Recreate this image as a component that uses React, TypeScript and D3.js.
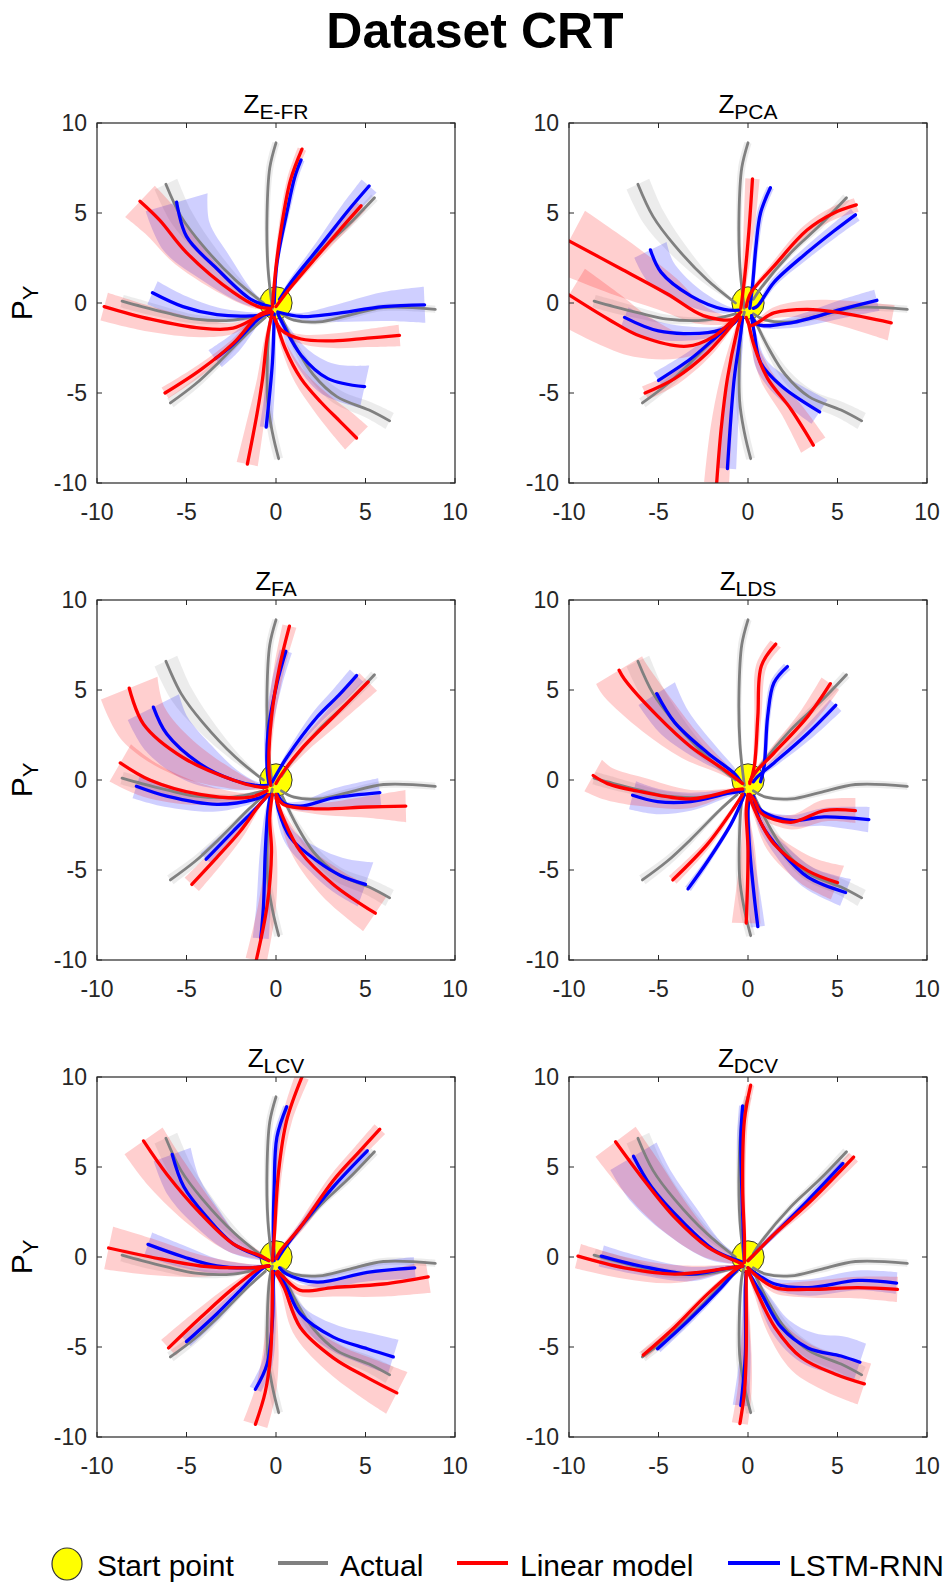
import React from 'react';
import * as d3 from 'd3';

// each point: [x, y, band half-width]
type Pt = [number, number, number];

const TITLE = 'Dataset CRT';
const panelNames = ['E-FR', 'PCA', 'FA', 'LDS', 'LCV', 'DCV'];
const axisTicks = [-10, -5, 0, 5, 10];
const legendLabels = ['Start point', 'Actual', 'Linear model', 'LSTM-RNN'];

// actual trajectories, same in every panel
const actual: Pt[][] = [
  [[-0.2, -0.3, 0.05], [-0.45, 2, 0.1], [-0.5, 5, 0.15], [-0.35, 7.5, 0.2], [0, 8.9, 0.2]],
  [[-0.7, 0, 0.05], [-2.3, 1.3, 0.25], [-4.1, 3.2, 0.5], [-5.3, 4.8, 0.65], [-6.15, 6.6, 0.7]],
  [[0.3, 0.2, 0.05], [0.7, 0.8, 0.1], [2.4, 2.8, 0.15], [4, 4.3, 0.2], [5.5, 5.85, 0.25]],
  [[0.3, -0.6, 0.05], [1, -0.95, 0.1], [2.4, -1.05, 0.15], [4, -0.7, 0.2], [6, -0.25, 0.2], [8.9, -0.35, 0.2]],
  [[0.35, -0.9, 0.05], [1.2, -2.6, 0.2], [2.1, -4, 0.3], [3.4, -5.2, 0.4], [5.2, -5.95, 0.45], [6.35, -6.55, 0.5]],
  [[-0.2, -0.5, 0.05], [-0.37, -1.3, 0.1], [-0.47, -5.4, 0.2], [-0.19, -7.25, 0.25], [0.15, -8.65, 0.25]],
  [[-0.6, -0.8, 0.05], [-1.5, -1.6, 0.1], [-3.2, -3.3, 0.2], [-4.5, -4.5, 0.25], [-5.9, -5.55, 0.3]],
  [[-0.7, -0.6, 0.05], [-2.4, -0.95, 0.15], [-4.5, -0.9, 0.25], [-6.1, -0.55, 0.3], [-7.5, -0.2, 0.35], [-8.6, 0.1, 0.35]],
];

const linearEFR: Pt[][] = [
  [[-0.2, -0.2, 0.05], [0, 2, 0.1], [0.3, 4.2, 0.15], [0.8, 6.8, 0.2], [1.45, 8.55, 0.25]],
  [[-0.3, -0.3, 0.05], [-1, -0.2, 0.15], [-2.4, 0.6, 0.4], [-5, 2.8, 0.9], [-6.5, 4.6, 1.1], [-7.6, 5.65, 1.2]],
  [[0, -0.2, 0.05], [0.6, 0.6, 0.1], [2.3, 2.6, 0.2], [3.6, 4.1, 0.3], [4.75, 5.4, 0.35]],
  [[-0.1, -0.8, 0.05], [0.3, -1.5, 0.1], [1.4, -2, 0.25], [3.2, -2.1, 0.4], [5.1, -1.95, 0.5], [6.9, -1.8, 0.6]],
  [[0, -1, 0.05], [0.5, -2.5, 0.2], [1.4, -4.2, 0.4], [2.5, -5.5, 0.6], [3.6, -6.6, 0.8], [4.5, -7.5, 0.9]],
  [[-0.2, -0.5, 0.05], [-0.5, -2, 0.15], [-0.75, -4.2, 0.3], [-1.05, -6.1, 0.45], [-1.6, -8.95, 0.6]],
  [[-0.3, -0.4, 0.05], [-1, -0.7, 0.1], [-2.35, -2.2, 0.2], [-4.2, -3.7, 0.3], [-6.2, -5, 0.35]],
  [[-0.3, -0.5, 0.05], [-0.9, -0.7, 0.1], [-2.4, -1.4, 0.3], [-4.2, -1.4, 0.5], [-7, -0.9, 0.7], [-9.6, -0.2, 0.8]],
];
const lstmEFR: Pt[][] = [
  [[-0.1, 0, 0.05], [0.05, 2.2, 0.1], [0.6, 5, 0.15], [1.05, 7, 0.2], [1.4, 7.95, 0.2]],
  [[-0.3, -0.2, 0.05], [-1.4, 0.2, 0.4], [-3.3, 1.9, 1], [-5, 3.7, 1.5], [-5.55, 5.6, 1.8]],
  [[0.2, 0.2, 0.05], [0.8, 1.1, 0.15], [2.5, 3.2, 0.3], [4, 5.1, 0.45], [5.2, 6.5, 0.55]],
  [[0.1, -0.5, 0.05], [1.4, -0.75, 0.2], [3.2, -0.6, 0.45], [6, -0.2, 0.8], [8.3, -0.1, 1]],
  [[0.1, -0.6, 0.05], [0.45, -1.3, 0.2], [1.4, -2.9, 0.5], [2.9, -4.2, 0.9], [4.95, -4.65, 1.2]],
  [[-0.1, -0.6, 0.05], [-0.2, -3.3, 0.2], [-0.55, -6.9, 0.35]],
  [[-0.3, -0.4, 0.05], [-1, -0.9, 0.2], [-2.4, -2.3, 0.5], [-3.4, -3.1, 0.6]],
  [[-0.3, -0.6, 0.05], [-1.4, -0.72, 0.2], [-3.3, -0.65, 0.4], [-5.2, -0.2, 0.6], [-6.9, 0.57, 0.7]],
];

const linearPCA: Pt[][] = [
  [[-0.4, -0.3, 0.05], [-0.2, 1.3, 0.15], [0.05, 4, 0.3], [0.25, 6.9, 0.4]],
  [[-0.4, -0.5, 0.05], [-0.8, -0.9, 0.15], [-2.5, -0.7, 0.5], [-4.5, 0.5, 1], [-7, 1.85, 1.5], [-10, 3.45, 1.9]],
  [[-0.5, -0.6, 0.05], [-0.8, -0.9, 0.1], [-1.9, -1.85, 0.3], [-3.4, -2.4, 0.6], [-6, -1.85, 1.2], [-7.8, -0.9, 1.5], [-10, 0.45, 1.7]],
  [[-0.1, -0.2, 0.05], [0.15, 0.55, 0.1], [1.45, 2.05, 0.2], [3.3, 4.05, 0.3], [4.8, 5, 0.35], [6.05, 5.45, 0.4]],
  [[-0.1, -0.8, 0.05], [0.15, -1.25, 0.1], [1.45, -0.55, 0.3], [3.3, -0.35, 0.5], [5.2, -0.55, 0.7], [8, -1.1, 1]],
  [[0, -1, 0.05], [0.35, -2.4, 0.2], [1.1, -4.2, 0.4], [2.4, -5.9, 0.6], [3.65, -7.9, 0.8]],
  [[-0.4, -0.8, 0.05], [-0.6, -1.5, 0.15], [-1.15, -4.2, 0.4], [-1.5, -7, 0.6], [-1.75, -10, 0.7]],
  [[-0.5, -0.7, 0.05], [-0.8, -1.1, 0.1], [-2.25, -2.75, 0.25], [-4.1, -4.2, 0.35], [-5.75, -5, 0.4]],
];
const lstmPCA: Pt[][] = [
  [[0.1, -0.3, 0.05], [0.25, 0.95, 0.1], [0.45, 3.2, 0.15], [0.7, 5, 0.2], [1.25, 6.4, 0.2]],
  [[-0.5, -0.4, 0.05], [-1.35, -0.35, 0.25], [-3.2, 0.4, 0.6], [-4.85, 1.7, 0.9], [-5.45, 2.95, 1]],
  [[0.3, -0.3, 0.05], [0.55, -0.15, 0.1], [1.45, 1.15, 0.2], [3.3, 2.8, 0.3], [4.8, 4, 0.35], [6, 4.9, 0.4]],
  [[0.2, -0.7, 0.05], [0.55, -1.2, 0.1], [2.4, -1.1, 0.3], [5.2, -0.35, 0.5], [7.2, 0.15, 0.6]],
  [[0.2, -0.8, 0.05], [0.35, -1.65, 0.1], [0.7, -3.3, 0.35], [1.85, -4.6, 0.6], [4, -6.05, 0.8]],
  [[-0.3, -0.8, 0.05], [-0.4, -1.65, 0.15], [-0.77, -4.2, 0.35], [-1.15, -9.2, 0.5]],
  [[-0.5, -0.8, 0.05], [-1.9, -2, 0.25], [-3.2, -3.1, 0.4], [-5, -4.3, 0.5]],
  [[-0.5, -0.8, 0.05], [-0.95, -1.25, 0.1], [-2.25, -1.65, 0.3], [-5, -1.55, 0.5], [-6.9, -0.8, 0.6]],
];

const linearFA: Pt[][] = [
  [[-0.3, -0.3, 0.05], [-0.4, 0.7, 0.1], [-0.25, 3.5, 0.2], [0.2, 6.3, 0.3], [0.75, 8.55, 0.4]],
  [[-0.5, -0.4, 0.05], [-0.9, -0.4, 0.15], [-2.4, 0, 0.5], [-5.2, 1.25, 1.1], [-7.4, 3.1, 1.5], [-8.2, 5.1, 1.7]],
  [[0, -0.2, 0.05], [0.2, 0.15, 0.1], [1.35, 1.65, 0.3], [3.2, 3.5, 0.5], [5.15, 5.45, 0.7]],
  [[0, -0.8, 0.05], [0.4, -1.35, 0.1], [2.3, -1.6, 0.3], [5.1, -1.5, 0.6], [7.25, -1.45, 0.9]],
  [[0, -1, 0.05], [0.4, -2.1, 0.2], [1.35, -3.95, 0.5], [3.2, -5.8, 0.9], [5.55, -7.4, 1.2]],
  [[-0.2, -0.8, 0.05], [-0.35, -2.1, 0.15], [-0.25, -4, 0.3], [-0.5, -7, 0.5], [-1.1, -10, 0.6]],
  [[-0.4, -0.8, 0.05], [-0.9, -1.35, 0.1], [-2, -2.85, 0.3], [-3.3, -4.3, 0.45], [-4.7, -5.8, 0.55]],
  [[-0.5, -0.6, 0.05], [-1.45, -0.95, 0.2], [-4.25, -0.8, 0.6], [-7.05, 0, 1], [-8.7, 0.95, 1.2]],
];
const lstmFA: Pt[][] = [
  [[-0.4, -0.2, 0.05], [-0.5, 0.7, 0.1], [-0.45, 2.6, 0.2], [0.05, 5.35, 0.3], [0.55, 7.15, 0.35]],
  [[-0.5, -0.3, 0.05], [-1.1, -0.3, 0.2], [-2.4, 0, 0.6], [-4.25, 0.9, 1.2], [-6.1, 2.55, 1.5], [-6.85, 4.05, 1.6]],
  [[-0.2, -0.1, 0.05], [0.6, 1.25, 0.15], [2.3, 3.5, 0.35], [3.5, 4.7, 0.45], [4.5, 5.8, 0.5]],
  [[0.1, -0.8, 0.05], [0.4, -1.25, 0.1], [1.35, -1.45, 0.25], [3.2, -1, 0.5], [5.8, -0.7, 0.8]],
  [[0, -0.8, 0.05], [0.15, -1.7, 0.15], [0.8, -3.2, 0.4], [2.3, -4.5, 0.7], [3.6, -5.3, 1], [5, -5.8, 1.3]],
  [[-0.3, -0.8, 0.05], [-0.45, -1.7, 0.15], [-0.6, -4, 0.3], [-0.7, -7, 0.4], [-0.85, -8.8, 0.45]],
  [[-0.4, -0.8, 0.05], [-0.9, -1.35, 0.1], [-2.4, -2.85, 0.3], [-3.9, -4.4, 0.45]],
  [[-0.5, -0.8, 0.05], [-1.1, -1.05, 0.15], [-3.3, -1.35, 0.4], [-6.1, -0.9, 0.6], [-7.8, -0.35, 0.7]],
];

const linearLDS: Pt[][] = [
  [[0.1, -0.2, 0.05], [0.35, 0.75, 0.1], [0.55, 3.55, 0.2], [0.75, 6.35, 0.3], [1.55, 7.55, 0.35]],
  [[-0.3, -0.2, 0.05], [-1.3, 0.55, 0.3], [-3.2, 1.85, 0.8], [-5.05, 3.55, 1.2], [-6.9, 5.6, 1.5], [-7.2, 6.1, 1.5]],
  [[0.1, -0.1, 0.05], [0.35, 0.35, 0.1], [1.45, 1.5, 0.3], [3.35, 3.55, 0.5], [4.6, 5.35, 0.6]],
  [[0.1, -0.8, 0.05], [0.35, -1.1, 0.1], [0.75, -1.85, 0.2], [2.4, -2.35, 0.4], [4.25, -1.7, 0.6], [6, -1.7, 0.7]],
  [[0.1, -1, 0.05], [0.55, -2.05, 0.2], [1.45, -3.55, 0.5], [3.35, -5.05, 0.8], [5, -5.7, 1]],
  [[0, -0.8, 0.05], [-0.1, -1.7, 0.15], [0, -3.9, 0.4], [-0.1, -7.95, 0.8]],
  [[-0.3, -0.8, 0.05], [-0.75, -1.5, 0.1], [-2.25, -3.55, 0.2], [-4.2, -5.55, 0.3]],
  [[-0.3, -0.5, 0.05], [-0.75, -0.55, 0.1], [-3.2, -1.05, 0.5], [-6, -0.65, 0.8], [-7.85, -0.2, 0.9], [-8.65, 0.25, 1]],
];
const lstmLDS: Pt[][] = [
  [[0.7, -0.1, 0.05], [0.9, 0.75, 0.1], [1.1, 3.55, 0.15], [1.45, 5.4, 0.2], [2.2, 6.3, 0.25]],
  [[-0.4, -0.1, 0.05], [-0.75, 0.35, 0.2], [-2.25, 1.5, 0.6], [-4.1, 3.2, 1], [-5.1, 4.8, 1.2]],
  [[0.3, -0.1, 0.05], [0.55, 0.2, 0.1], [1.45, 0.95, 0.2], [3.35, 2.6, 0.35], [4.9, 4.15, 0.45]],
  [[0.3, -0.9, 0.05], [0.75, -1.7, 0.1], [2.4, -2.25, 0.3], [4.25, -2.05, 0.5], [6.75, -2.2, 0.7]],
  [[0.3, -1, 0.05], [0.75, -2.45, 0.2], [1.85, -3.95, 0.4], [3.35, -5.4, 0.6], [5.45, -6.25, 0.8]],
  [[0.1, -0.8, 0.05], [0, -1.7, 0.1], [0.1, -3.9, 0.2], [0.35, -6.5, 0.35], [0.55, -8.15, 0.4]],
  [[-0.2, -0.8, 0.05], [-0.4, -1.3, 0.05], [-0.95, -2.45, 0.1], [-2.25, -4.5, 0.15], [-3.35, -6.05, 0.2]],
  [[-0.3, -0.6, 0.05], [-1.15, -0.75, 0.2], [-3.2, -1.2, 0.5], [-5.05, -1.2, 0.7], [-6.45, -0.85, 0.8]],
];

const linearLCV: Pt[][] = [
  [[-0.2, -0.2, 0.05], [-0.1, 1.1, 0.1], [0.15, 4.8, 0.2], [0.6, 7.6, 0.3], [1.45, 10, 0.4]],
  [[-0.4, -0.2, 0.05], [-0.85, 0.05, 0.2], [-2.35, 0.7, 0.5], [-4.2, 2.4, 0.9], [-6.1, 4.6, 1.2], [-7.4, 6.45, 1.3]],
  [[0, -0.1, 0.05], [0.25, 0.35, 0.1], [1.35, 1.65, 0.2], [3.2, 4.25, 0.3], [4.6, 5.8, 0.35], [5.8, 7.1, 0.4]],
  [[0.1, -0.8, 0.05], [0.45, -1.15, 0.15], [1.35, -1.85, 0.3], [3.2, -1.7, 0.5], [6, -1.5, 0.7], [8.5, -1.1, 0.9]],
  [[0, -0.9, 0.05], [0.45, -1.7, 0.2], [1.35, -3.9, 0.5], [3.2, -5.6, 0.8], [5.1, -6.7, 1.1], [6.75, -7.55, 1.3]],
  [[-0.2, -0.8, 0.05], [-0.2, -1.7, 0.15], [-0.3, -5.4, 0.45], [-0.6, -7.5, 0.6], [-1.15, -9.3, 0.7]],
  [[-0.4, -0.5, 0.05], [-0.85, -0.6, 0.1], [-2.35, -1.7, 0.25], [-4.2, -3.35, 0.45], [-6, -5.05, 0.6]],
  [[-0.4, -0.5, 0.05], [-1.45, -0.6, 0.2], [-4.2, -0.5, 0.6], [-7, 0, 1], [-9.35, 0.5, 1.2]],
];
const lstmLCV: Pt[][] = [
  [[-0.1, -0.2, 0.05], [-0.15, 1.1, 0.1], [-0.1, 3.9, 0.15], [0.05, 6.65, 0.2], [0.6, 8.35, 0.2]],
  [[-0.4, -0.2, 0.05], [-0.85, 0, 0.2], [-2.35, 0.7, 0.5], [-3.85, 2.2, 0.8], [-5.15, 3.9, 1], [-5.8, 5.7, 1.1]],
  [[0.1, -0.1, 0.05], [0.25, 0.15, 0.1], [1.35, 1.65, 0.15], [3.2, 3.9, 0.25], [5.1, 5.9, 0.3]],
  [[0.2, -0.6, 0.05], [0.6, -0.95, 0.1], [2.3, -1.4, 0.3], [5.1, -0.85, 0.5], [7.75, -0.6, 0.6]],
  [[0.1, -0.8, 0.05], [0.6, -1.7, 0.2], [1.35, -3.15, 0.4], [3.2, -4.45, 0.7], [5.1, -5.1, 0.9], [6.55, -5.55, 1]],
  [[-0.1, -0.8, 0.05], [-0.15, -1.3, 0.1], [-0.2, -3.55, 0.2], [-0.5, -5.95, 0.3], [-1.15, -7.35, 0.35]],
  [[-0.4, -0.5, 0.05], [-0.7, -0.6, 0.1], [-2, -1.85, 0.2], [-3.3, -3.15, 0.3], [-5, -4.7, 0.35]],
  [[-0.4, -0.5, 0.05], [-1.45, -0.6, 0.2], [-3.3, -0.5, 0.4], [-5.15, 0, 0.6], [-7.15, 0.7, 0.7]],
];

const linearDCV: Pt[][] = [
  [[-0.2, -0.3, 0.05], [-0.2, 1.1, 0.1], [-0.3, 3.9, 0.15], [-0.2, 7.6, 0.2], [0.15, 9.55, 0.2]],
  [[-0.3, -0.4, 0.05], [-0.75, -0.2, 0.2], [-2.25, 0.55, 0.6], [-4.1, 2.2, 1], [-5.95, 4.45, 1.3], [-7.4, 6.4, 1.4]],
  [[0, -0.2, 0.05], [0.35, 0.15, 0.1], [1.5, 1.3, 0.15], [3.35, 2.95, 0.25], [5.9, 5.55, 0.35]],
  [[0, -0.6, 0.05], [0.35, -0.95, 0.1], [1.5, -1.7, 0.3], [3.35, -1.8, 0.45], [6.15, -1.7, 0.6], [8.35, -1.8, 0.7]],
  [[0, -0.8, 0.05], [0.55, -2.05, 0.2], [1.5, -3.9, 0.5], [3, -5.6, 0.9], [4.85, -6.5, 1.1], [6.5, -7.05, 1.2]],
  [[-0.1, -0.8, 0.05], [-0.1, -1.7, 0.1], [-0.1, -5.4, 0.3], [-0.2, -7.5, 0.4], [-0.45, -9.25, 0.45]],
  [[-0.3, -0.5, 0.05], [-0.55, -0.6, 0.1], [-2.25, -2.05, 0.15], [-4.1, -3.9, 0.2], [-5.85, -5.45, 0.25]],
  [[-0.3, -0.5, 0.05], [-1.3, -0.65, 0.2], [-4.1, -0.95, 0.5], [-6.9, -0.6, 0.6], [-9.5, 0.05, 0.7]],
];
const lstmDCV: Pt[][] = [
  [[-0.2, -0.2, 0.05], [-0.25, 1.1, 0.1], [-0.35, 3.9, 0.15], [-0.4, 6.65, 0.2], [-0.3, 8.4, 0.2]],
  [[-0.3, -0.3, 0.05], [-0.55, -0.2, 0.2], [-1.85, 0.35, 0.6], [-3.7, 2, 1.1], [-5.4, 3.9, 1.4], [-6.4, 5.6, 1.5]],
  [[0, -0.2, 0.05], [0.35, 0.15, 0.1], [1.5, 1.3, 0.15], [3.35, 3.15, 0.2], [5.3, 5.2, 0.25]],
  [[0, -0.6, 0.05], [0.35, -0.85, 0.1], [1.5, -1.5, 0.3], [3.35, -1.7, 0.45], [6.15, -1.3, 0.55], [8.3, -1.45, 0.6]],
  [[0, -0.8, 0.05], [0.75, -2.05, 0.3], [1.85, -3.9, 0.6], [3.35, -5.05, 0.9], [5.2, -5.5, 1.1], [6.25, -5.85, 1.1]],
  [[-0.1, -0.8, 0.05], [-0.15, -1.7, 0.1], [-0.15, -5.4, 0.3], [-0.4, -8.25, 0.45]],
  [[-0.3, -0.5, 0.05], [-0.55, -0.65, 0.1], [-1.5, -1.7, 0.15], [-3.35, -3.55, 0.2], [-5.05, -5.1, 0.25]],
  [[-0.3, -0.5, 0.05], [-1.3, -0.65, 0.2], [-3.15, -0.95, 0.4], [-6, -0.5, 0.5], [-8.2, 0.05, 0.6]],
];

const linearByPanel = [linearEFR, linearPCA, linearFA, linearLDS, linearLCV, linearDCV];
const lstmByPanel = [lstmEFR, lstmPCA, lstmFA, lstmLDS, lstmLCV, lstmDCV];

const FONT = 'Arial, "Liberation Sans", sans-serif';
const GRAY = '#808080';
const RED = '#ff0000';
const BLUE = '#0000ff';
const AXIS = '#262626';

const colLeft = [97, 569];
const rowTop = [123, 600, 1077];
const PW = 358;
const PH = 360;

function Panel({ idx }: { idx: number }) {
  const col = idx % 2;
  const row = Math.floor(idx / 2);
  const left = colLeft[col];
  const top = rowTop[row];
  const x = d3.scaleLinear().domain([-10, 10]).range([left, left + PW]);
  const y = d3.scaleLinear().domain([-10, 10]).range([top + PH, top]);

  const line = d3.line<Pt>()
    .x(d => x(d[0]))
    .y(d => y(d[1]))
    .curve(d3.curveCatmullRom.alpha(0.5));

  // band polygon: offset each point along its normal by its half-width
  const band = (pts: Pt[]) => {
    const up: Pt[] = [];
    const lo: Pt[] = [];
    pts.forEach((p, i) => {
      const a = pts[Math.max(0, i - 1)];
      const b = pts[Math.min(pts.length - 1, i + 1)];
      const tx = b[0] - a[0], ty = b[1] - a[1];
      const len = Math.hypot(tx, ty) || 1;
      const nx = -ty / len, ny = tx / len;
      up.push([p[0] + nx * p[2], p[1] + ny * p[2], 0]);
      lo.push([p[0] - nx * p[2], p[1] - ny * p[2], 0]);
    });
    const s1 = line(up) || '';
    const s2 = line(lo.reverse()) || '';
    return s1 + 'L' + s2.slice(1) + 'Z';
  };

  const clipId = `clip-${idx}`;
  const tickLen = 5;
  const cx = left + PW / 2;

  return (
    <g>
      <defs>
        <clipPath id={clipId}>
          <rect x={left} y={top} width={PW} height={PH} />
        </clipPath>
      </defs>
      <g clipPath={`url(#${clipId})`}>
        {actual.map((t, i) => <path key={`ga${i}`} d={band(t)} fill={GRAY} fillOpacity={0.15} />)}
        {lstmByPanel[idx].map((t, i) => <path key={`gb${i}`} d={band(t)} fill={BLUE} fillOpacity={0.19} />)}
        {linearByPanel[idx].map((t, i) => <path key={`gr${i}`} d={band(t)} fill={RED} fillOpacity={0.19} />)}
        <ellipse cx={x(0)} cy={y(0)} rx={x(0.9) - x(0)} ry={y(0) - y(0.9)} fill="#ffff00" stroke="#333" strokeWidth={1} />
        {actual.map((t, i) => <path key={`la${i}`} d={line(t) || ''} fill="none" stroke={GRAY} strokeWidth={2.8} strokeLinecap="round" />)}
        {lstmByPanel[idx].map((t, i) => <path key={`lb${i}`} d={line(t) || ''} fill="none" stroke={BLUE} strokeWidth={3.3} strokeLinecap="round" />)}
        {linearByPanel[idx].map((t, i) => <path key={`lr${i}`} d={line(t) || ''} fill="none" stroke={RED} strokeWidth={3.3} strokeLinecap="round" />)}
      </g>
      <rect x={left} y={top} width={PW} height={PH} fill="none" stroke={AXIS} strokeWidth={1.2} />
      {axisTicks.map(t => (
        <g key={`t${t}`} stroke={AXIS} strokeWidth={1}>
          <line x1={x(t)} x2={x(t)} y1={top + PH} y2={top + PH - tickLen} />
          <line x1={x(t)} x2={x(t)} y1={top} y2={top + tickLen} />
          <line x1={left} x2={left + tickLen} y1={y(t)} y2={y(t)} />
          <line x1={left + PW} x2={left + PW - tickLen} y1={y(t)} y2={y(t)} />
        </g>
      ))}
      {axisTicks.map(t => (
        <text key={`xl${t}`} x={x(t)} y={top + PH + 37} textAnchor="middle" fontSize={23} fontFamily={FONT} fill={AXIS}>{String(t)}</text>
      ))}
      {axisTicks.map(t => (
        <text key={`yl${t}`} x={left - 10} y={y(t) + 8} textAnchor="end" fontSize={23} fontFamily={FONT} fill={AXIS}>{String(t)}</text>
      ))}
      <text x={cx} y={top - 10} textAnchor="middle" fontSize={26} fontFamily={FONT} fill="#000">
        Z<tspan fontSize={21} dy={6}>{panelNames[idx]}</tspan>
      </text>
      {col === 0 && (
        <text transform={`translate(32, ${top + PH / 2}) rotate(-90)`} textAnchor="middle" fontSize={30} fontFamily={FONT} fill="#000">
          P<tspan fontSize={22} dy={6}>Y</tspan>
        </text>
      )}
    </g>
  );
}

function Legend() {
  const ly = 1564;
  const base = 1576;
  return (
    <g fontFamily={FONT} fontSize={30} fill="#000">
      <ellipse cx={67} cy={ly} rx={15} ry={16} fill="#ffff00" stroke="#333" strokeWidth={1.2} />
      <text x={97} y={base}>{legendLabels[0]}</text>
      <line x1={278} x2={328} y1={ly - 1} y2={ly - 1} stroke={GRAY} strokeWidth={4} />
      <text x={340} y={base}>{legendLabels[1]}</text>
      <line x1={457} x2={508} y1={ly - 1} y2={ly - 1} stroke={RED} strokeWidth={4} />
      <text x={520} y={base}>{legendLabels[2]}</text>
      <line x1={728} x2={780} y1={ly - 1} y2={ly - 1} stroke={BLUE} strokeWidth={4} />
      <text x={789} y={base}>{legendLabels[3]}</text>
    </g>
  );
}

export default function App() {
  return (
    <svg width={950} height={1590} style={{ position: 'absolute', left: 0, top: 0, background: '#fff' }}>
      <rect width={950} height={1590} fill="#fff" />
      <text x={475} y={48} textAnchor="middle" fontSize={50} fontWeight="bold" fontFamily={FONT} fill="#000">{TITLE}</text>
      {panelNames.map((_, i) => <Panel key={i} idx={i} />)}
      <Legend />
    </svg>
  );
}
